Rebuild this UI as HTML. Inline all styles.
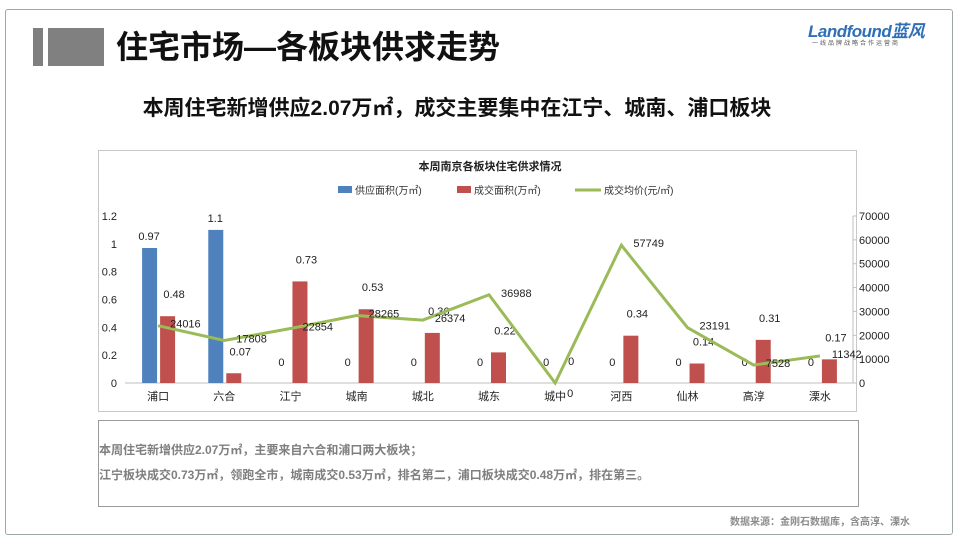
<!DOCTYPE html>
<html><head><meta charset="utf-8"><style>
body{margin:0;width:960px;height:540px;background:#fff;font-family:"Liberation Sans","Noto Sans CJK SC",sans-serif;position:relative;overflow:hidden}
.abs{position:absolute}
</style></head><body>
<div class="abs" style="left:5px;top:9px;width:946px;height:524px;border:1px solid #9aa8a8;border-radius:3px"></div>
<div class="abs" style="left:33px;top:28px;width:10px;height:38px;background:#7f7f7f"></div>
<div class="abs" style="left:48px;top:28px;width:56px;height:38px;background:#808080"></div>
<div class="abs" style="left:116px;top:28px;font-size:32px;font-weight:bold;line-height:38px;color:#111">住宅市场—各板块供求走势</div>
<div class="abs" style="left:808px;top:17px;font-size:17px;font-style:italic;font-weight:bold;color:#2e6fb5;letter-spacing:-0.5px">Landfound蓝风</div>
<div class="abs" style="left:812px;top:38px;font-size:6px;color:#555;letter-spacing:2px">一线品牌战略合作运营商</div>
<div class="abs" style="left:0;width:914px;top:92px;text-align:center;font-size:21px;font-weight:bold;color:#111">本周住宅新增供应2.07万㎡，成交主要集中在江宁、城南、浦口板块</div>
<div class="abs" style="left:98px;top:150px;width:757px;height:260px;border:1px solid #c8c8c8"></div>
<svg class="abs" style="left:0;top:0" width="960" height="540" id="chart"></svg>
<div class="abs" style="left:98px;top:420px;width:759px;height:85px;border:1px solid #9a9a9a;font-size:12px;font-weight:bold;color:#7f7f7f;line-height:25px">
<div style="margin-top:17px;margin-left:0">本周住宅新增供应2.07万㎡，主要来自六合和浦口两大板块；</div>
<div>江宁板块成交0.73万㎡，领跑全市，城南成交0.53万㎡，排名第二，浦口板块成交0.48万㎡，排在第三。</div>
</div>
<div class="abs" style="left:730px;top:513px;font-size:10px;font-weight:bold;color:#8c8c8c">数据来源：金刚石数据库，含高淳、溧水</div>
<script>
const categories=["浦口","六合","江宁","城南","城北","城东","城中","河西","仙林","高淳","溧水"];
const supply=[0.97,1.1,0,0,0,0,0,0,0,0,0];
const deals=[0.48,0.07,0.73,0.53,0.36,0.22,0,0.34,0.14,0.31,0.17];
const price=[24016,17808,22854,28265,26374,36988,0,57749,23191,7528,11342];
const leftTicks=[0,0.2,0.4,0.6,0.8,1,1.2];
const rightTicks=[0,10000,20000,30000,40000,50000,60000,70000];
const svg=document.getElementById('chart');const NS='http://www.w3.org/2000/svg';
const L=125,R=853,T=216,B=383,cw=(R-L)/categories.length;
const yL=v=>B-(v/1.2)*(B-T), yR=v=>B-(v/70000)*(B-T), cx=i=>L+cw*(i+0.5);
function mk(t,a,txt){const e=document.createElementNS(NS,t);for(const k in a)e.setAttribute(k,a[k]);if(txt!==undefined)e.textContent=txt;svg.appendChild(e);return e;}
const F='Liberation Sans, Noto Sans CJK SC, sans-serif';
let e=mk('text',{x:490,y:170,'font-size':11,'font-weight':'bold','text-anchor':'middle','font-family':F,fill:'#222'},'本周南京各板块住宅供求情况');

const leg=[["供应面积(万㎡)",'#4f81bd','rect',338],["成交面积(万㎡)",'#c0504d','rect',457],["成交均价(元/㎡)",'#9bbb59','line',575]];
leg.forEach(l=>{let m;if(l[2]=='rect')m=mk('rect',{x:l[3],y:186,width:14,height:7,fill:l[1]});else m=mk('line',{x1:l[3],x2:l[3]+26,y1:190,y2:190,stroke:l[1],'stroke-width':3});

let t=mk('text',{x:l[3]+(l[2]=='rect'?17:29),y:194,'font-size':10,'font-family':F,fill:'#333'},l[0]);
});
e=mk('line',{x1:L,x2:R,y1:B,y2:B,stroke:'#bfbfbf'});
e=mk('line',{x1:R,x2:R,y1:T,y2:B,stroke:'#bfbfbf'});
leftTicks.forEach(v=>{let t=mk('text',{x:117,y:yL(v)+4,'font-size':11,'text-anchor':'end','font-family':F,fill:'#222'},String(v));
});
rightTicks.forEach(v=>{let l=mk('line',{x1:R,x2:R+4,y1:yR(v),y2:yR(v),stroke:'#bfbfbf'});
let t=mk('text',{x:859,y:yR(v)+4,'font-size':11,'font-family':F,fill:'#222'},String(v));
});
categories.forEach((c,i)=>{let t=mk('text',{x:cx(i),y:400,'font-size':11,'text-anchor':'middle','font-family':F,fill:'#222'},c);

let b=mk('rect',{x:cx(i)-16,y:yL(supply[i]),width:15,height:B-yL(supply[i]),fill:'#4f81bd'});

let r=mk('rect',{x:cx(i)+2,y:yL(deals[i]),width:15,height:B-yL(deals[i]),fill:'#c0504d'});

let s=mk('text',{x:cx(i)-9,y:supply[i]?yL(supply[i])-8:yL(0)-17,'font-size':11,'text-anchor':'middle','font-family':F,fill:'#222'},String(supply[i]));

let d=mk('text',{x:cx(i)+16,y:yL(deals[i])-18,'font-size':11,'text-anchor':'middle','font-family':F,fill:'#222'},String(deals[i]));
});
e=mk('polyline',{points:price.map((v,i)=>cx(i)+','+yR(v)).join(' '),fill:'none',stroke:'#9bbb59','stroke-width':3});

price.forEach((v,i)=>{let t=mk('text',{x:cx(i)+12,y:yR(v)+(v?2:14),'font-size':11,'font-family':F,fill:'#222'},String(v));
});
</script>
</body></html>
